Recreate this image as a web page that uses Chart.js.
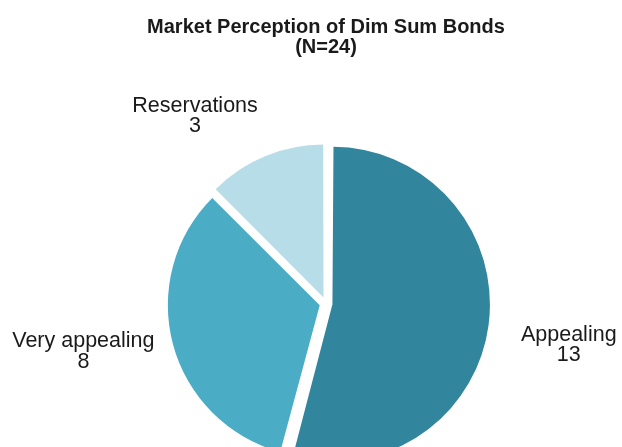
<!DOCTYPE html>
<html>
<head>
<meta charset="utf-8">
<script src="https://cdn.jsdelivr.net/npm/chart.js@4/dist/chart.umd.min.js"></script>
<style>
  html, body { margin: 0; padding: 0; background: #ffffff; overflow: hidden; }
  #wrap { position: relative; width: 622px; height: 540px; }
</style>
</head>
<body>
<div id="wrap"><canvas id="c"></canvas></div>
<script>
// ---- data ----
const categories = ['Appealing', 'Very appealing', 'Reservations'];
const counts = [13, 8, 3];
const titleLines = ['Market Perception of Dim Sum Bonds', '(N=24)'];

// ---- styling ----
const sliceColors = ['#31859C', '#4BACC6', '#B7DEE8'];
const textColor = '#1a1a1a';
const fontFamily = "'Liberation Sans', Arial, Helvetica, sans-serif";

// label placement relative to the pie centre (degrees clockwise from top, px)
const labelAngles = [99.3, 259.2, 325.3];
const labelDistances = [246, 247, 230];

const outsideLabels = {
  id: 'outsideLabels',
  afterDatasetsDraw(chart, args, opts) {
    const meta = chart.getDatasetMeta(0);
    const ctx = chart.ctx;
    const size = opts.size;
    const cap = size * 0.716;
    const lh = opts.lineHeight;
    ctx.save();
    ctx.font = size + 'px ' + fontFamily;
    ctx.fillStyle = opts.color;
    ctx.textAlign = 'center';
    ctx.textBaseline = 'alphabetic';
    meta.data.forEach((arc, i) => {
      const a = opts.angles[i] * Math.PI / 180;
      const d = opts.distances[i];
      const cx = arc.x + Math.sin(a) * d;
      const cy = arc.y - Math.cos(a) * d;
      const top = cy - (cap + lh) / 2;
      ctx.fillText(chart.data.labels[i], cx, top + cap);
      ctx.fillText(String(chart.data.datasets[0].data[i]), cx, top + cap + lh);
    });
    ctx.restore();
  }
};

new Chart(document.getElementById('c'), {
  type: 'pie',
  data: {
    labels: categories,
    datasets: [{
      data: counts,
      backgroundColor: sliceColors,
      borderWidth: 0,
      offset: 26,
      hoverOffset: 0
    }]
  },
  options: {
    responsive: true,
    maintainAspectRatio: false,
    animation: false,
    radius: 151,
    layout: { padding: { top: 7, left: 30, right: 0, bottom: 0 } },
    plugins: {
      legend: { display: false },
      tooltip: { enabled: false },
      title: {
        display: true,
        text: titleLines,
        color: textColor,
        font: { family: fontFamily, size: 20, weight: 'bold', lineHeight: 1.0 },
        padding: { top: 10, bottom: 10 }
      },
      outsideLabels: {
        angles: labelAngles,
        distances: labelDistances,
        size: 21.5,
        lineHeight: 20.5,
        color: textColor
      }
    }
  },
  plugins: [outsideLabels]
});
</script>
</body>
</html>
